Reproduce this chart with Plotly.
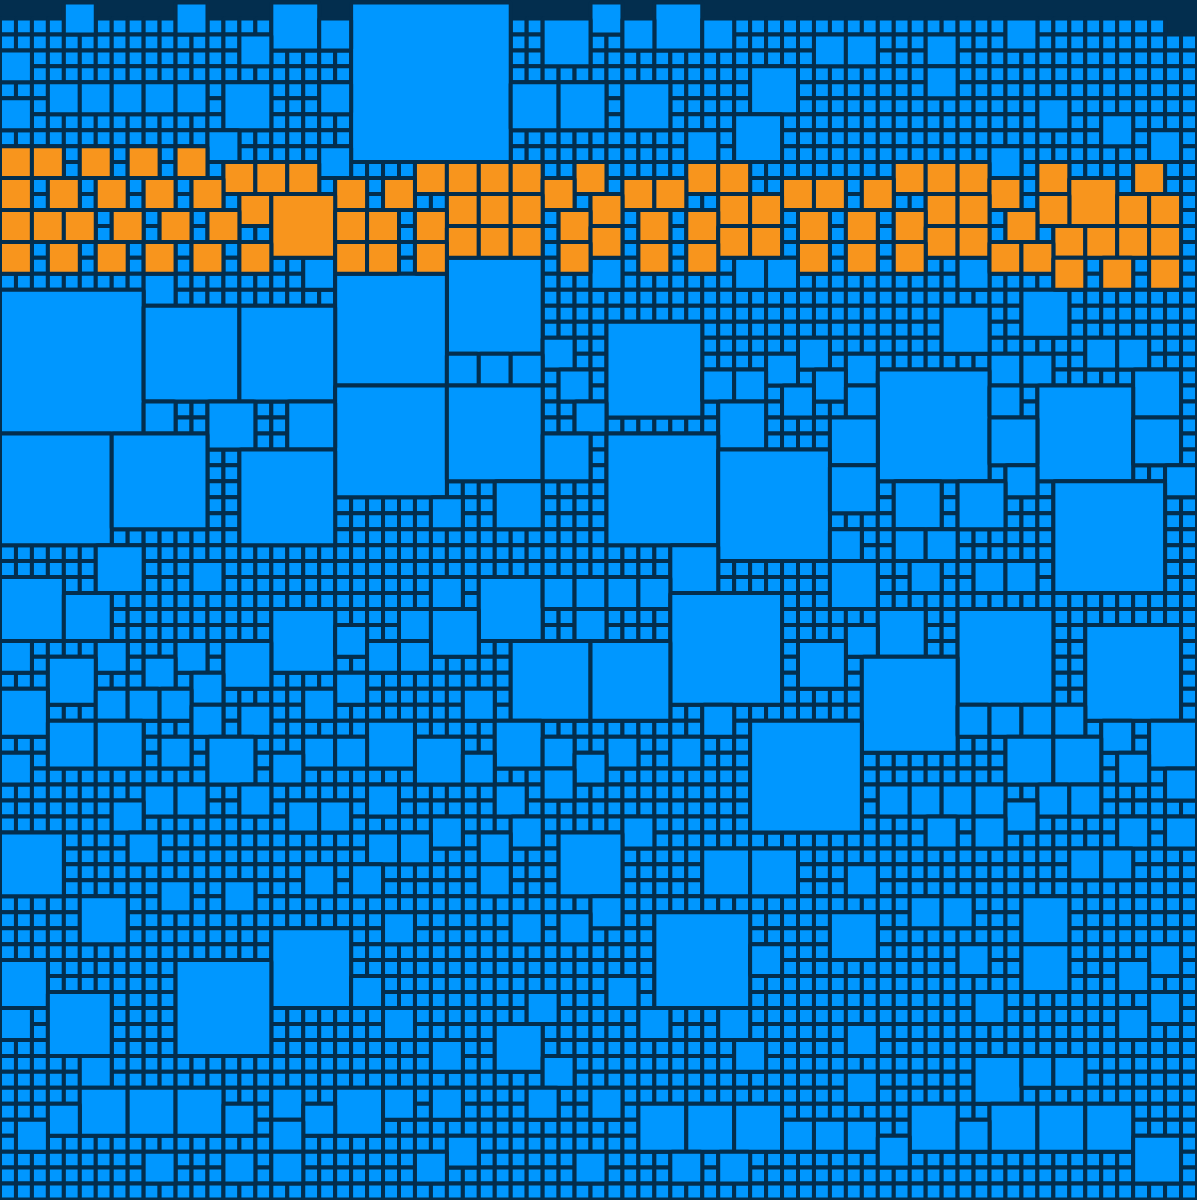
import plotly.graph_objs as go

# (column, row, side) of every square wider than one cell, rows counted from the top
orange_squares = [
    (0, 9, 2), (2, 9, 2), (5, 9, 2), (8, 9, 2), (11, 9, 2),
    (14, 10, 2), (16, 10, 2), (18, 10, 2), (26, 10, 2), (28, 10, 2), (30, 10, 2), (32, 10, 2), (36, 10, 2),
    (43, 10, 2), (45, 10, 2), (56, 10, 2), (58, 10, 2), (60, 10, 2), (65, 10, 2), (71, 10, 2),
    (0, 11, 2), (3, 11, 2), (6, 11, 2), (9, 11, 2), (12, 11, 2), (21, 11, 2), (24, 11, 2), (34, 11, 2),
    (39, 11, 2), (41, 11, 2), (49, 11, 2), (51, 11, 2), (54, 11, 2), (62, 11, 2), (67, 11, 3),
    (15, 12, 2), (17, 12, 4), (28, 12, 2), (30, 12, 2), (32, 12, 2), (37, 12, 2), (45, 12, 2), (47, 12, 2),
    (58, 12, 2), (60, 12, 2), (65, 12, 2), (70, 12, 2), (72, 12, 2),
    (0, 13, 2), (2, 13, 2), (4, 13, 2), (7, 13, 2), (10, 13, 2), (13, 13, 2), (21, 13, 2), (23, 13, 2),
    (26, 13, 2), (35, 13, 2), (40, 13, 2), (43, 13, 2), (50, 13, 2), (53, 13, 2), (56, 13, 2), (63, 13, 2),
    (28, 14, 2), (30, 14, 2), (32, 14, 2), (37, 14, 2), (45, 14, 2), (47, 14, 2), (58, 14, 2), (60, 14, 2),
    (66, 14, 2), (68, 14, 2), (70, 14, 2), (72, 14, 2),
    (0, 15, 2), (3, 15, 2), (6, 15, 2), (9, 15, 2), (12, 15, 2), (15, 15, 2), (21, 15, 2), (23, 15, 2),
    (26, 15, 2), (35, 15, 2), (40, 15, 2), (43, 15, 2), (50, 15, 2), (53, 15, 2), (56, 15, 2), (62, 15, 2),
    (64, 15, 2),
    (66, 16, 2), (69, 16, 2), (72, 16, 2),
]

blue_squares = [
    (4, 0, 2), (11, 0, 2), (17, 0, 3), (22, 0, 10), (37, 0, 2), (41, 0, 3),
    (20, 1, 2), (34, 1, 3), (39, 1, 2), (44, 1, 2), (63, 1, 2),
    (15, 2, 2), (51, 2, 2), (53, 2, 2), (58, 2, 2),
    (0, 3, 2),
    (47, 4, 3), (58, 4, 2),
    (3, 5, 2), (5, 5, 2), (7, 5, 2), (9, 5, 2), (11, 5, 2), (14, 5, 3), (20, 5, 2), (32, 5, 3), (35, 5, 3), (39, 5, 3),
    (0, 6, 2), (65, 6, 2),
    (46, 7, 3), (69, 7, 2),
    (13, 8, 2), (43, 8, 2), (72, 8, 2),
    (20, 9, 2), (62, 9, 2),
    (19, 16, 2), (28, 16, 6), (37, 16, 2), (46, 16, 2), (48, 16, 2), (60, 16, 2),
    (9, 17, 2), (21, 17, 7),
    (0, 18, 9), (64, 18, 3),
    (9, 19, 6), (15, 19, 6), (59, 19, 3),
    (38, 20, 6),
    (34, 21, 2), (50, 21, 2), (68, 21, 2), (70, 21, 2),
    (28, 22, 2), (30, 22, 2), (32, 22, 2), (48, 22, 2), (53, 22, 2), (62, 22, 2), (64, 22, 2),
    (35, 23, 2), (44, 23, 2), (46, 23, 2), (51, 23, 2), (55, 23, 7), (71, 23, 3),
    (21, 24, 7), (28, 24, 6), (49, 24, 2), (53, 24, 2), (62, 24, 2), (65, 24, 6),
    (9, 25, 2), (13, 25, 3), (18, 25, 3), (36, 25, 2), (45, 25, 3),
    (52, 26, 3), (62, 26, 3), (71, 26, 3),
    (0, 27, 7), (7, 27, 6), (34, 27, 3), (38, 27, 7),
    (15, 28, 6), (45, 28, 7),
    (52, 29, 3), (63, 29, 2), (73, 29, 2),
    (31, 30, 3), (56, 30, 3), (60, 30, 3), (66, 30, 7),
    (27, 31, 2),
    (52, 33, 2), (56, 33, 2), (58, 33, 2),
    (6, 34, 3), (42, 34, 3),
    (12, 35, 2), (52, 35, 3), (57, 35, 2), (61, 35, 2), (63, 35, 2),
    (0, 36, 4), (27, 36, 2), (30, 36, 4), (34, 36, 2), (36, 36, 2), (38, 36, 2), (40, 36, 2),
    (4, 37, 3), (42, 37, 7),
    (17, 38, 4), (25, 38, 2), (27, 38, 3), (36, 38, 2), (55, 38, 3), (60, 38, 6),
    (21, 39, 2), (53, 39, 2), (68, 39, 6),
    (0, 40, 2), (6, 40, 2), (11, 40, 2), (14, 40, 3), (23, 40, 2), (25, 40, 2), (32, 40, 5), (37, 40, 5), (50, 40, 3),
    (3, 41, 3), (9, 41, 2), (54, 41, 6),
    (12, 42, 2), (21, 42, 2),
    (0, 43, 3), (6, 43, 2), (8, 43, 2), (10, 43, 2), (19, 43, 2), (29, 43, 2),
    (12, 44, 2), (15, 44, 2), (44, 44, 2), (60, 44, 2), (62, 44, 2), (64, 44, 2), (66, 44, 2),
    (3, 45, 3), (6, 45, 3), (23, 45, 3), (31, 45, 3), (47, 45, 7), (69, 45, 2), (72, 45, 3),
    (10, 46, 2), (13, 46, 3), (19, 46, 2), (21, 46, 2), (26, 46, 3), (34, 46, 2), (38, 46, 2), (42, 46, 2),
    (63, 46, 3), (66, 46, 3),
    (0, 47, 2), (17, 47, 2), (29, 47, 2), (36, 47, 2), (70, 47, 2),
    (34, 48, 2), (73, 48, 2),
    (9, 49, 2), (11, 49, 2), (15, 49, 2), (23, 49, 2), (31, 49, 2), (55, 49, 2), (57, 49, 2), (59, 49, 2),
    (61, 49, 2), (65, 49, 2), (67, 49, 2),
    (7, 50, 2), (18, 50, 2), (20, 50, 2), (63, 50, 2),
    (27, 51, 2), (32, 51, 2), (39, 51, 2), (58, 51, 2), (61, 51, 2), (70, 51, 2), (73, 51, 2),
    (0, 52, 4), (8, 52, 2), (23, 52, 2), (25, 52, 2), (30, 52, 2), (35, 52, 4),
    (44, 53, 3), (47, 53, 3), (67, 53, 2), (69, 53, 2),
    (19, 54, 2), (22, 54, 2), (30, 54, 2), (53, 54, 2),
    (10, 55, 2), (14, 55, 2),
    (5, 56, 3), (37, 56, 2), (57, 56, 2), (59, 56, 2), (64, 56, 3),
    (24, 57, 2), (32, 57, 2), (35, 57, 2), (41, 57, 6), (52, 57, 3),
    (17, 58, 5),
    (47, 59, 2), (60, 59, 2), (64, 59, 3), (72, 59, 2),
    (0, 60, 3), (11, 60, 6), (70, 60, 2),
    (22, 61, 2), (38, 61, 2),
    (3, 62, 4), (33, 62, 2), (61, 62, 2), (72, 62, 2),
    (0, 63, 2), (24, 63, 2), (40, 63, 2), (45, 63, 2), (70, 63, 2),
    (31, 64, 3), (53, 64, 2),
    (27, 65, 2), (46, 65, 2),
    (5, 66, 2), (34, 66, 2), (61, 66, 3), (64, 66, 2), (66, 66, 2),
    (53, 67, 2),
    (5, 68, 3), (8, 68, 3), (11, 68, 3), (17, 68, 2), (21, 68, 3), (24, 68, 2), (27, 68, 2), (33, 68, 2), (37, 68, 2),
    (3, 69, 2), (14, 69, 2), (19, 69, 2), (40, 69, 3), (43, 69, 3), (46, 69, 3), (57, 69, 3), (62, 69, 3),
    (65, 69, 3), (68, 69, 3),
    (1, 70, 2), (17, 70, 2), (49, 70, 2), (51, 70, 2), (53, 70, 2), (60, 70, 2),
    (28, 71, 2), (55, 71, 2), (71, 71, 3),
    (9, 72, 2), (14, 72, 2), (17, 72, 2), (26, 72, 2), (36, 72, 2), (42, 72, 2), (45, 72, 2),
]

grid_cols = 75
grid_rows = 75
# row 0 holds no single cells, row 1 stops at column 72
first_row_ends = {0: 0, 1: 73}

blue = '#0097ff'
orange = '#f8951d'
navy = '#032e4e'

taken = set()
for col, row, side in orange_squares + blue_squares:
    for c in range(col, col + side):
        for r in range(row, row + side):
            taken.add((c, r))

# whatever no larger square covers is a single-cell square
single_squares = []
for r in range(grid_rows):
    for c in range(first_row_ends.get(r, grid_cols)):
        if (c, r) not in taken:
            single_squares.append((c, r, 1))


def addSquares(fig, squares, color):
    fig.add_trace(go.Bar(
        x=[c + s / 2 for c, r, s in squares],
        y=[s for c, r, s in squares],
        base=[r for c, r, s in squares],
        width=[s for c, r, s in squares],
        marker=dict(color=color, line=dict(color=navy, width=4), cornerradius=2),
        hoverinfo='skip',
        showlegend=False
    ))


fig = go.Figure()
addSquares(fig, single_squares + blue_squares, blue)
addSquares(fig, orange_squares, orange)

fig.update_layout(
    width=1197,
    height=1200,
    barmode='overlay',
    margin=dict(l=0, r=0, t=0, b=0),
    plot_bgcolor=navy,
    paper_bgcolor=navy,
    xaxis=dict(range=[0, grid_cols], visible=False, fixedrange=True),
    yaxis=dict(range=[75.03, -0.157], visible=False, fixedrange=True)
)

fig.write_html("out.html", config={'displayModeBar': False},
               post_script="document.body.style.margin='0';document.body.style.background='%s';" % navy)
